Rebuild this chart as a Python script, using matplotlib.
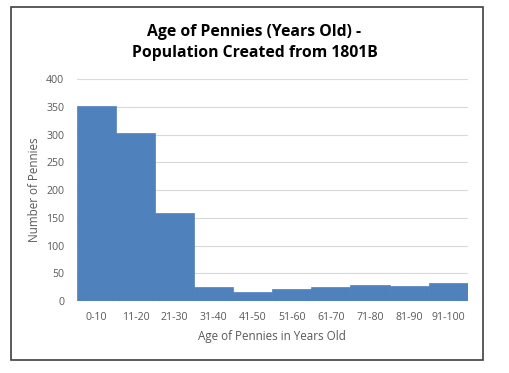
import matplotlib.pyplot as plt
from matplotlib.patches import Rectangle

categories = ['0-10', '11-20', '21-30', '31-40', '41-50', '51-60',
              '61-70', '71-80', '81-90', '91-100']
counts = [351, 302, 159, 25, 16, 22, 25, 29, 27, 33]


def plot_pennies():
    plt.rcParams['font.family'] = ['Open Sans', 'DejaVu Sans']

    fig = plt.figure(figsize=(5.09, 3.73), dpi=100)
    ax = fig.add_axes([0.151, 0.193, 0.768, 0.595])

    x = range(len(categories))
    ax.bar(x, counts, width=1.0, color='#4F81BD', edgecolor='#4F81BD',
           linewidth=0.5, zorder=3)

    ax.set_xlim(-0.5, len(categories) - 0.5)
    ax.set_ylim(0, 400)
    ax.set_yticks(range(0, 401, 50))
    ax.set_xticks(list(x))
    ax.set_xticklabels(categories)
    ax.tick_params(axis='both', length=0, labelsize=7.6, colors='#595959')
    ax.tick_params(axis='x', pad=8)
    ax.tick_params(axis='y', pad=9)

    ax.grid(axis='y', color='#D9D9D9', linewidth=0.8, zorder=0)
    for s in ax.spines.values():
        s.set_visible(False)

    ax.set_xlabel('Age of Pennies in Years Old', fontsize=8.4, color='#595959',
                  labelpad=5)
    ax.set_ylabel('Number of Pennies', fontsize=8.4, color='#595959', labelpad=4)

    fig.text(0.5, 0.887, 'Age of Pennies (Years Old) -\nPopulation Created from 1801B',
             ha='center', va='center', fontsize=11.3, fontweight='bold',
             linespacing=1.4)

    # outer frame of the chart
    fig.patches.append(Rectangle((11 / 509, 1 - 360 / 373), (483 - 11) / 509,
                                 (360 - 7) / 373, transform=fig.transFigure,
                                 fill=False, edgecolor='#404040', linewidth=1.2))

    fig.savefig('out.png', dpi=100)


if __name__ == '__main__':
    plot_pennies()
